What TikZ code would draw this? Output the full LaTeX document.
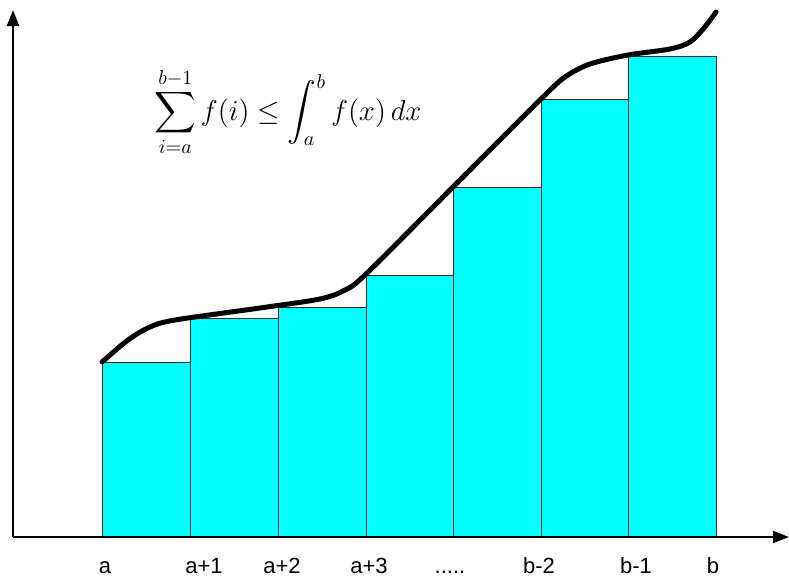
\documentclass[tikz,border=0pt]{standalone}
\usepackage{amsmath}
\usepackage{fontspec}
\newfontfamily\labelfont{Liberation Sans}
\usepackage{tikz}
\usetikzlibrary{arrows.meta, positioning}
\definecolor{barcyan}{RGB}{0,255,255}
\definecolor{baredge}{RGB}{40,40,40}
\newcommand{\gapdots}{.....}
\tikzset{
  %% ---- axes and curve ----
  axis/.style  = {-{Triangle[length=8pt, width=6pt]}, line width=1pt, color=black},
  curve/.style = {line width=2.5pt, line cap=round, line join=round, color=black},
  %% ---- bars ----
  bar/.style   = {draw=baredge, line width=0.5pt, fill=barcyan},
  %% ---- labels ----
  ticklbl/.style = {anchor=base, inner sep=0pt, font=\labelfont\fontsize{11}{13}\selectfont},
}

\begin{document}
\begin{tikzpicture}[x=0.5pt, y=-0.5pt]

  \useasboundingbox (0,0) rectangle (789,578);

  %% Axes
  \coordinate (O)    at (13,537);
  \coordinate (xend) at (789,537);
  \coordinate (yend) at (13,10);

  %% Bars (left edge / right edge / top)
  \foreach \xl/\xr/\ytop in {102/190/362, 190/278/318, 278/366/307,
                             366/453/275, 453/541/187, 541/628/99,
                             628/716/56}
    \draw[bar] (\xl,537) rectangle (\xr,\ytop);

  \draw[axis] (O) -- (xend);
  \draw[axis] (O) -- (yend);

  %% Function curve
  \draw[curve] plot[smooth, tension=0.5] coordinates {
    (102,362) (128,340) (150,327) (175,320) (260,308) (320,299)
    (345,290) (366,274) (453,187) (541,99) (565,77) (590,64)
    (628,55) (670,49) (690,42) (704,28) (716,12)};

  %% Tick labels
  \foreach \px/\txt/\nm in {105/a/la, 204/a+1/lb, 282/a+2/lc, 369/a+3/ld,
                            450/\gapdots/le, 539/b-2/lf, 636/b-1/lg, 713/b/lh}
    \node[ticklbl] (\nm) at (\px,573) {\txt};

  %% Formula
  \node[inner sep=0pt, font=\fontsize{14.5}{17}\selectfont] (sumeq) at (288,112)
    {$\displaystyle\sum_{i=a}^{b-1} f(i) \le \int_a^b f(x)\,dx$};

\end{tikzpicture}
\end{document}
